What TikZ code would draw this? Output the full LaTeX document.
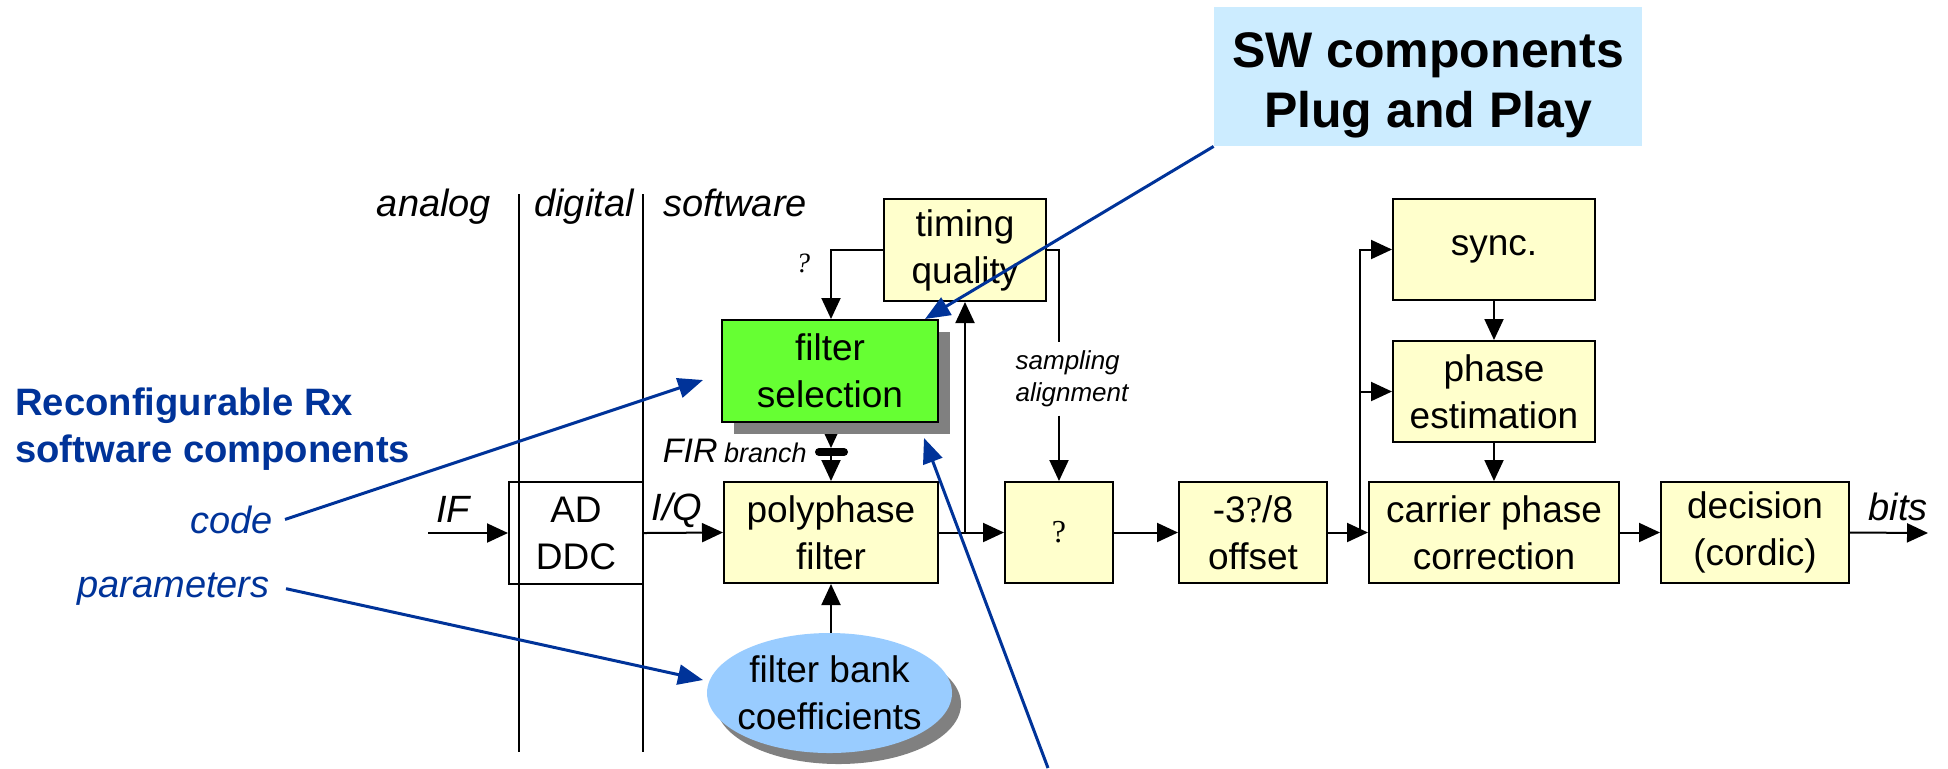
\documentclass[tikz,border=0pt]{standalone}
\usepackage{fontspec}
\setmainfont{Liberation Sans}
\newfontfamily\qfont{Liberation Serif}
\usetikzlibrary{arrows.meta,shapes.geometric,shadows,calc,backgrounds}

\definecolor{boxyellow}{HTML}{FFFFCC}
\definecolor{selgreen}{HTML}{66FF33}
\definecolor{rxblue}{HTML}{003399}
\definecolor{calloutblue}{HTML}{CCECFF}
\definecolor{bankblue}{HTML}{99CCFF}
\definecolor{shadowgray}{HTML}{808080}

\newcommand\boxfont{\fontsize{18.5}{23.5}\selectfont}
\newcommand\lblfont{\itshape\fontsize{19}{23}\selectfont}

\begin{document}
\begin{tikzpicture}[x=0.5pt,y=-0.5pt,
  block/.style={draw=black, line width=1pt, fill=boxyellow, align=center,
                font=\boxfont, inner sep=2pt},
  conn/.style={line width=1pt, -{Triangle[length=10.5pt,width=9.5pt]}},
  note/.style={draw=rxblue, line width=1.5pt, -{Triangle[length=12.5pt,width=10pt]}},
  lbl/.style={font=\lblfont, inner sep=0pt},
  bluelbl/.style={font=\lblfont, text=rxblue, inner sep=0pt},
  headlbl/.style={font=\bfseries\fontsize{19.1}{23.5}\selectfont, text=rxblue, inner sep=0pt},
  divider/.style={line width=1pt}
]
\useasboundingbox (0,0) rectangle (1948,768);

% domain dividers
\draw[divider] (519,194) -- (519,752);
\draw[divider] (643,194) -- (643,752);
\node[lbl, anchor=base] (analog) at (434,216) {analog};
\node[lbl, anchor=base] (digital) at (584,216) {digital};
\node[lbl, anchor=base] (software) at (735,216) {software};

% processing blocks
\node[block, fill=none, minimum width=67pt, minimum height=51pt] (ad) at (576,533) {AD\\DDC};
\node[block, minimum width=81pt, minimum height=51pt] (tq) at (965,250) {timing\\quality};
\node[block, fill=selgreen, minimum width=108pt, minimum height=51pt,
      drop shadow={shadow xshift=6pt, shadow yshift=-6pt, fill=shadowgray, opacity=1}]
      (fs) at (830,371) {filter\\selection};
\node[block, minimum width=107pt, minimum height=50.5pt] (pp) at (831,532.5) {polyphase\\filter};
\node[block, minimum width=54pt, minimum height=50.5pt,
      font=\qfont\fontsize{16}{18}\selectfont] (qb) at (1059,532.5) {?};
\node[block, minimum width=74pt, minimum height=50.5pt] (off) at (1253,532.5) {-3{\qfont ?}/8\\offset};
\node[block, minimum width=101pt, minimum height=50.5pt] (sy) at (1494,249.5) {sync.};
\node[block, minimum width=101pt, minimum height=50.5pt] (pe) at (1494,391.5) {phase\\estimation};
\node[block, minimum width=125pt, minimum height=50.5pt] (cp) at (1494,532.5) {carrier phase\\correction};
\node[block, minimum width=94pt, minimum height=50.5pt] (dc) at (1755,532.5) {decision\\(cordic)};
\node[ellipse, fill=bankblue, minimum width=122.5pt, minimum height=60pt,
      inner xsep=-8pt, inner ysep=0pt, align=center, font=\boxfont,
      drop shadow={shadow xshift=4.5pt, shadow yshift=-5.5pt, fill=shadowgray, opacity=1}]
      (fb) at (829.5,693) {filter bank\\coefficients};

% callout
\node[fill=calloutblue, minimum width=214pt, minimum height=69.5pt, align=center,
      font=\bfseries\fontsize{25}{30}\selectfont] (sw) at (1428,76.5)
      {\rule{0pt}{26pt}SW components\\Plug and Play};

% signal labels
\node[lbl, anchor=base] (iflbl) at (453,522) {IF};
\node[lbl, anchor=base] (iqlbl) at (677,520) {I/Q};
\node[lbl, anchor=base] (bits) at (1898,520) {bits};
\node[font=\qfont\itshape\fontsize{14}{16}\selectfont, inner sep=0pt, anchor=base] (fbq) at (803,272) {?};
\node[lbl, anchor=base east] (fir) at (807,462)
  {{\fontsize{17}{18}\selectfont FIR}\,{\fontsize{13.5}{15}\selectfont branch}};
\node[font=\itshape\fontsize{13}{16}\selectfont, align=left, inner xsep=0pt, inner ysep=4pt]
  (samp) at (1072,379) {sampling\\alignment};

% left-hand annotations
\node[headlbl, anchor=base west] (rx1) at (15,415) {Reconfigurable Rx};
\node[headlbl, anchor=base west] (rx2) at (15,462) {software components};
\node[bluelbl, anchor=base east] (code) at (273,533) {code};
\node[bluelbl, anchor=base east] (par) at (270,597) {parameters};

% connector end points
\coordinate (ifin) at (428,533);
\coordinate (bitsout) at (1928,533);
\coordinate (brk) at (831,452);
\coordinate (brkT) at (831,448);
\coordinate (brkB) at (831,456);
\coordinate (brkL) at (819,452);
\coordinate (brkR) at (844,452);
\coordinate (cj) at ($(cp.west)+(-8,0)$);
\coordinate (codeTip) at (703,380);
\coordinate (parTip) at (703,680);
\coordinate (swTip) at (925,319);
\coordinate (lowStart) at (1048,768);
\coordinate (lowTip) at (924,438);

% signal path
\draw[conn] (ifin) -- (ad.west);
\draw[conn] (ad.east) -- (pp.west);
\draw[conn] (pp.east) -- (qb.west);
\draw[conn] (tq.south |- pp.east) -- (tq.south);
\draw[conn] (tq.west) -| (fs.north -| brk);
\draw[line width=1pt] (tq.east) -| (qb.north |- samp.north);
\draw[conn] (qb.north |- samp.south) -- (qb.north);
\draw[conn] (qb.east) -- (off.west);
\draw[conn] (off.east) -- (cp.west);
\draw[conn] (cj) |- (sy.west);
\draw[conn] (cj |- pe.west) -- (pe.west);
\draw[conn] (sy.south) -- (pe.north);
\draw[conn] (pe.south) -- (cp.north);
\draw[conn] (cp.east) -- (dc.west);
\draw[conn] (dc.east) -- (bitsout);
\draw[conn] (fb.north -| pp.south) -- (pp.south);

% FIR branch selector (upper arrow runs under the block's shadow)
\begin{pgfonlayer}{background}
\draw[conn] (fs.south -| brk) -- (brkT);
\end{pgfonlayer}
\draw[line width=4pt, line cap=round] (brkL) -- (brkR);
\draw[conn] (brkB) -- (pp.north);

% annotation arrows
\draw[note] ([xshift=6pt]code.east) -- (codeTip);
\draw[note] ([xshift=8pt]par.east) -- (parTip);
\draw[note] (sw.south west) -- (swTip);
\draw[note] (lowStart) -- (lowTip);
\end{tikzpicture}
\end{document}
